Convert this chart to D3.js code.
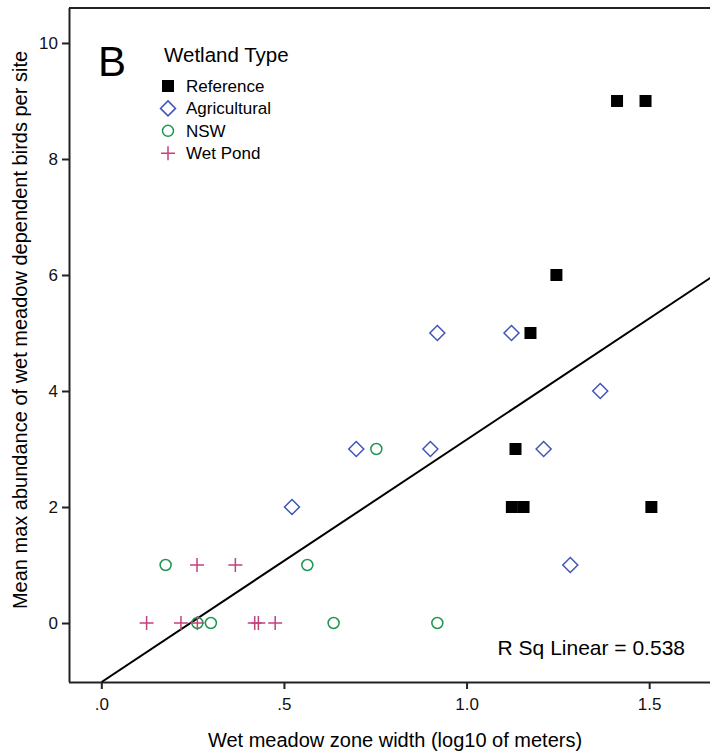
<!DOCTYPE html>
<html><head><meta charset="utf-8">
<script src="https://cdn.jsdelivr.net/npm/d3@7"></script>
<style>body{margin:0;background:#fff}svg{display:block}text{font-family:"Liberation Sans",Arial,sans-serif}</style>
</head><body>
<script>
const categories = ["Reference","Agricultural","NSW","Wet Pond"];
const referenceX = [1.412,1.490,1.246,1.175,1.134,1.124,1.156,1.506];
const referenceY = [9,9,6,5,3,2,2,2];
const agriculturalX = [0.920,1.123,1.366,0.698,0.901,1.211,0.522,1.284];
const agriculturalY = [5,5,4,3,3,3,2,1];
const nswX = [0.753,0.176,0.564,0.263,0.300,0.636,0.920];
const nswY = [3,1,1,0,0,0,0];
const wetPondX = [0.262,0.367,0.124,0.218,0.263,0.420,0.430,0.476];
const wetPondY = [1,1,0,0,0,0,0,0];
const xTicks = [0,0.5,1.0,1.5];
const xTickLabels = [".0",".5","1.0","1.5"];
const yTicks = [0,2,4,6,8,10];
const fitIntercept = -1.02, fitSlope = 4.18;
const rSqLabel = "R Sq Linear = 0.538";

const W=710,H=754;
const svg=d3.select("body").append("svg").attr("width",W).attr("height",H);
const L=69,R=712,T=8,B=682;
const x=d3.scaleLinear().domain([-0.0885,1.672]).range([L,R]);
const y=d3.scaleLinear().domain([-1.017,10.603]).range([B,T]);

// frame
svg.append("line").attr("x1",L).attr("x2",R).attr("y1",T).attr("y2",T).attr("stroke","#222").attr("stroke-width",2);
const gx=svg.append("g").attr("transform",`translate(0,${B})`)
 .call(d3.axisBottom(x).tickValues(xTicks).tickFormat((d,i)=>xTickLabels[i]).tickSize(7).tickPadding(9));
const gy=svg.append("g").attr("transform",`translate(${L},0)`)
 .call(d3.axisLeft(y).tickValues(yTicks).tickSize(7).tickPadding(4));
[gx,gy].forEach(g=>{
 g.select(".domain").attr("stroke","#222").attr("stroke-width",2);
 g.selectAll(".tick line").attr("stroke","#222").attr("stroke-width",2);
 g.selectAll(".tick text").attr("font-size",17).attr("fill","#111").style("font-family","Liberation Sans, Arial, sans-serif");
});
gx.select(".domain").attr("d",`M${L},0.5H${R}`);
gy.select(".domain").attr("d",`M0.5,${B}V${T}`);

// fit line clipped
svg.append("clipPath").attr("id","c").append("rect").attr("x",L).attr("y",T).attr("width",R-L).attr("height",B-T);
const x0=(y.domain()[0]-fitIntercept)/fitSlope, x1=x.domain()[1];
svg.append("line").attr("clip-path","url(#c)")
 .attr("x1",x(x0)).attr("y1",y(fitIntercept+fitSlope*x0))
 .attr("x2",x(x1)).attr("y2",y(fitIntercept+fitSlope*x1))
 .attr("stroke","#000").attr("stroke-width",2);

const colors={Reference:"#000",Agricultural:"#4055b8",NSW:"#1e9650","Wet Pond":"#c2427e"};
function marker(g,cat){
 if(cat==="Reference") g.append("rect").attr("x",-6).attr("y",-6).attr("width",12).attr("height",12).attr("fill","#000");
 else if(cat==="Agricultural") g.append("path").attr("d","M0,-7.5L7.5,0L0,7.5L-7.5,0Z").attr("fill","none").attr("stroke",colors[cat]).attr("stroke-width",1.5);
 else if(cat==="NSW") g.append("circle").attr("r",5.5).attr("fill","none").attr("stroke",colors[cat]).attr("stroke-width",1.5);
 else g.append("path").attr("d","M-7,0H7M0,-7V7").attr("stroke",colors[cat]).attr("stroke-width",1.5);
}
const series=[["Reference",referenceX,referenceY],["Agricultural",agriculturalX,agriculturalY],["NSW",nswX,nswY],["Wet Pond",wetPondX,wetPondY]];
series.forEach(([cat,xs,ys])=>{
 xs.forEach((v,i)=>{marker(svg.append("g").attr("transform",`translate(${x(v)},${y(ys[i])})`),cat);});
});

// labels
svg.append("text").attr("x",98).attr("y",76).attr("font-size",42).text("B");
svg.append("text").attr("x",164).attr("y",62).attr("font-size",20.5).text("Wetland Type");
categories.forEach((c,i)=>{
 const cy=86+i*22.4;
 marker(svg.append("g").attr("transform",`translate(168,${cy})`),c);
 svg.append("text").attr("x",186).attr("y",cy+6).attr("font-size",17).text(c);
});
svg.append("text").attr("x",685).attr("y",655).attr("text-anchor","end").attr("font-size",21).text(rSqLabel);
svg.append("text").attr("x",395).attr("y",747).attr("text-anchor","middle").attr("font-size",20).text("Wet meadow zone width (log10 of meters)");
svg.append("text").attr("transform","translate(27,330) rotate(-90)").attr("text-anchor","middle").attr("font-size",20).text("Mean max abundance of wet meadow dependent birds per site");
</script>
</body></html>
